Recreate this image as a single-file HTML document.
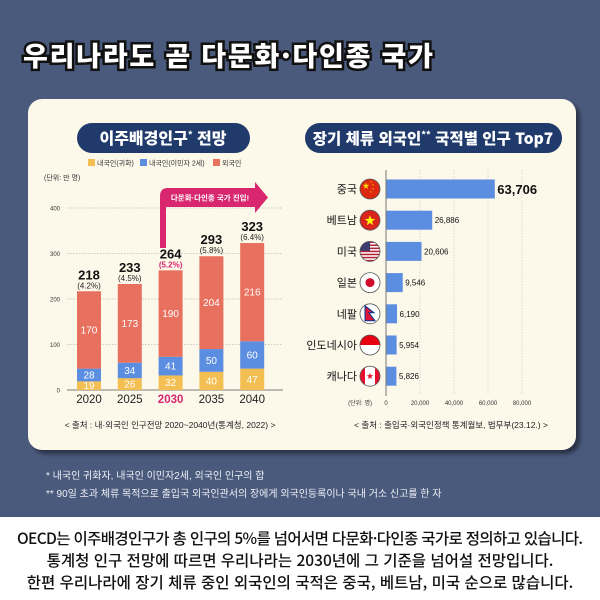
<!DOCTYPE html>
<html lang="ko"><head><meta charset="utf-8">
<style>
html,body{margin:0;padding:0;width:600px;height:600px;overflow:hidden;background:#fff;}
svg{display:block;font-family:"Liberation Sans","Noto Sans CJK KR",sans-serif;}
</style></head>
<body>
<svg id="s" width="600" height="600" viewBox="0 0 600 600" xmlns="http://www.w3.org/2000/svg">
<defs>
<filter id="sh" x="-5%" y="-5%" width="115%" height="120%"><feDropShadow dx="4" dy="4" stdDeviation="2" flood-color="#000" flood-opacity="0.45"/></filter>
</defs>
<rect x="0" y="0" width="600" height="517" fill="#4a5a7d"/>
<rect x="0" y="517" width="600" height="83" fill="#ffffff"/>
<text x="23" y="66" font-size="27" font-weight="900" fill="#fff" stroke="#111" stroke-width="5" paint-order="stroke" font-family="Noto Sans CJK KR, sans-serif" textLength="410">우리나라도 곧 다문화·다인종 국가</text>
<rect x="28" y="99" width="548" height="351" rx="14" fill="#fcf8ea" filter="url(#sh)"/>

<rect x="77" y="123" width="173" height="30" rx="15" fill="#1f3a6b"/>
<text x="163" y="144" font-size="16" font-weight="900" fill="#fff" text-anchor="middle" font-family="Noto Sans CJK KR, sans-serif">이주배경인구<tspan font-size="9" dy="-6">*</tspan><tspan dy="6"> 전망</tspan></text>
<rect x="305" y="123" width="257" height="30" rx="15" fill="#1f3a6b"/>
<text x="433" y="144" font-size="15.5" font-weight="900" fill="#fff" text-anchor="middle" font-family="Noto Sans CJK KR, sans-serif">장기 체류 외국인<tspan font-size="9" dy="-6">**</tspan><tspan dy="6"> 국적별 인구 Top7</tspan></text>

<g font-size="7" fill="#333">
<rect x="88" y="159" width="7" height="7" fill="#f4bf52"/>
<text x="97" y="165.5">내국인(귀화)</text>
<rect x="140" y="159" width="7" height="7" fill="#5b8de0"/>
<text x="149" y="165.5">내국인(이민자 2세)</text>
<rect x="213" y="159" width="7" height="7" fill="#e8705f"/>
<text x="222" y="165.5">외국인</text>
</g>
<text x="44" y="180" font-size="7" fill="#333">(단위: 만 명)</text>

<g id="left"></g>
<g id="right"></g>

<text x="170" y="428" font-size="8.5" fill="#222" text-anchor="middle">&lt; 출처 : 내·외국인 인구전망 2020~2040년(통계청, 2022) &gt;</text>
<text x="451" y="428" font-size="8.5" fill="#222" text-anchor="middle">&lt; 출처 : 출입국·외국인정책 통계월보, 법무부(23.12.) &gt;</text>

<text x="46" y="479" font-size="10" fill="#eef0f4">* 내국인 귀화자, 내국인 이민자2세, 외국인 인구의 합</text>
<text x="46" y="497" font-size="10" fill="#eef0f4">** 90일 초과 체류 목적으로 출입국 외국인관서의 장에게 외국인등록이나 국내 거소 신고를 한 자</text>

<g font-size="15.5" font-weight="500" fill="#111" text-anchor="middle" font-family="Noto Sans CJK KR, sans-serif">
<text x="300" y="544" textLength="566">OECD는 이주배경인구가 총 인구의 5%를 넘어서면 다문화·다인종 국가로 정의하고 있습니다.</text>
<text x="300" y="566">통계청 인구 전망에 따르면 우리나라는 2030년에 그 기준을 넘어설 전망입니다.</text>
<text x="300" y="588">한편 우리나라에 장기 체류 중인 외국인의 국적은 중국, 베트남, 미국 순으로 많습니다.</text>
</g>
</svg>
<script>
const years = ["2020","2025","2030","2035","2040"];
const naturalized = [19,26,32,40,47];
const secondGen = [28,34,41,50,60];
const foreigners = [170,173,190,204,216];
const totals = [218,233,264,293,323];
const shares = ["(4.2%)","(4.5%)","(5.2%)","(5.8%)","(6.4%)"];
const yTicks = [0,100,200,300,400];

const countries = ["중국","베트남","미국","일본","네팔","인도네시아","캐나다"];
const residents = [63706,26886,20606,9546,6190,5954,5826];
const residentLabels = ["63,706","26,886","20,606","9,546","6,190","5,954","5,826"];
const xTicks = [0,20000,40000,60000,80000];
const xTickLabels = ["0","20,000","40,000","60,000","80,000"];

const NS="http://www.w3.org/2000/svg";
function mk(parent,tag,attrs,text){const e=document.createElementNS(NS,tag);for(const k in attrs)e.setAttribute(k,attrs[k]);if(text!==undefined)e.textContent=text;parent.appendChild(e);return e;}

// left chart
const L=document.getElementById('left');
const y0=390, yScale=v=>y0-v*0.455;
const xBand=i=>89+i*40.8;
const bw=24;
yTicks.forEach(t=>{
  const g=mk(L,'line',{x1:67,x2:283,y1:yScale(t),y2:yScale(t),stroke:t===0?'#555':'#bbb','stroke-width':t===0?0.8:0.8,'stroke-dasharray':t===0?'':'1.5,1.5'});
  
  
  const tx=mk(L,'text',{x:60,y:yScale(t)+2.5,'font-size':6,fill:'#333','text-anchor':'end'},String(t));
  
  
});
// arrow banner
const ar=mk(L,'path',{d:'M160 248 L160 196 Q160 188 168 188 L255 188 L255 182 L268 197.5 L255 213 L255 207 L166 207 L166 248 Z',fill:'#d9276f'});


const at=mk(L,'text',{x:210,y:200.5,'font-size':7.5,'font-weight':'bold',fill:'#fff','text-anchor':'middle'},'다문화·다인종 국가 진입!');



years.forEach((yr,i)=>{
  const cx=xBand(i);
  const segs=[[naturalized[i],'#f4bf52','bar-naturalized'],[secondGen[i],'#5b8de0','bar-second-gen'],[foreigners[i],'#e8705f','bar-foreigner']];
  let base=0;
  segs.forEach(([v,c,n])=>{
    const top=yScale(base+v), bot=yScale(base);
    const r=mk(L,'rect',{x:cx-bw/2,y:top,width:bw,height:bot-top,fill:c});
    
    
    const t=mk(L,'text',{x:cx,y:(top+bot)/2+3.5,'font-size':10,fill:'#fff','text-anchor':'middle'},String(v));
    
    
    base+=v;
  });
  const topY=yScale(base);
  const tt=mk(L,'text',{x:cx,y:topY-12,'font-size':13,'font-weight':'bold',fill:'#111','text-anchor':'middle'},String(totals[i]));
  
  
  const ps=mk(L,'text',{x:cx,y:topY-3,'font-size':8,fill:i===2?'#d9276f':'#222','text-anchor':'middle','font-weight':i===2?'bold':'normal'},shares[i]);
  
  
  const yl=mk(L,'text',{x:cx,y:403,'font-size':11.5,fill:i===2?'#d9276f':'#222','text-anchor':'middle','font-weight':i===2?'bold':'normal'},yr);
  
  
});

// right chart
const R=document.getElementById('right');
const x0=386, xScale=v=>x0+v*0.0017;
const rowY=i=>189+i*31.2;
xTicks.forEach((t,i)=>{
  if(t>0){
    const g=mk(R,'line',{x1:xScale(t),x2:xScale(t),y1:170,y2:395,stroke:'#ccc','stroke-width':0.7,'stroke-dasharray':'1.5,1.5'});
    
    
  }
  const tx=mk(R,'text',{x:xScale(t),y:405,'font-size':6,fill:'#333','text-anchor':'middle'},xTickLabels[i]);
  
  
});
const ax=mk(R,'line',{x1:x0,x2:x0,y1:170,y2:396,stroke:'#555','stroke-width':0.8});


const ul=mk(R,'text',{x:372,y:405,'font-size':6,fill:'#333','text-anchor':'end'},'(단위: 명)');



function flag(i,cx,cy){
  const g=mk(R,'g',{});
  
  
  const r=10;
  const cid='c'+i;
  const cp=mk(g,'clipPath',{id:cid}); mk(cp,'circle',{cx:cx,cy:cy,r:r});
  const inner=mk(g,'g',{'clip-path':'url(#'+cid+')'});
  const star=(x,y,s,f)=>{let p=[];for(let k=0;k<10;k++){const a=-Math.PI/2+k*Math.PI/5,rr=k%2?s*0.4:s;p.push((x+rr*Math.cos(a)).toFixed(2)+','+(y+rr*Math.sin(a)).toFixed(2));}mk(inner,'polygon',{points:p.join(' '),fill:f});};
  if(i===0){mk(inner,'rect',{x:cx-r,y:cy-r,width:2*r,height:2*r,fill:'#de2910'});star(cx-4,cy-3,3.5,'#ffde00');star(cx+1,cy-7,1,'#ffde00');star(cx+3,cy-4,1,'#ffde00');star(cx+3,cy,1,'#ffde00');star(cx+1,cy+3,1,'#ffde00');}
  else if(i===1){mk(inner,'rect',{x:cx-r,y:cy-r,width:2*r,height:2*r,fill:'#da251d'});star(cx,cy+0.5,5.5,'#ffff00');}
  else if(i===2){mk(inner,'rect',{x:cx-r,y:cy-r,width:2*r,height:2*r,fill:'#fff'});for(let k=0;k<7;k++)mk(inner,'rect',{x:cx-r,y:cy-r+k*2*r/6.5,width:2*r,height:r/6.5,fill:'#b22234'});mk(inner,'rect',{x:cx-r,y:cy-r,width:r,height:r*0.95,fill:'#3c3b6e'});}
  else if(i===3){mk(inner,'rect',{x:cx-r,y:cy-r,width:2*r,height:2*r,fill:'#fff'});mk(inner,'circle',{cx:cx,cy:cy,r:4.5,fill:'#d10c2a'});}
  else if(i===4){mk(inner,'rect',{x:cx-r,y:cy-r,width:2*r,height:2*r,fill:'#fff'});mk(inner,'path',{d:`M${cx-5} ${cy-8} L${cx+4} ${cy-1} L${cx-1} ${cy-1} L${cx+5} ${cy+7} L${cx-5} ${cy+7} Z`,fill:'#dc143c',stroke:'#003893','stroke-width':1});}
  else if(i===5){mk(inner,'rect',{x:cx-r,y:cy-r,width:2*r,height:2*r,fill:'#fff'});mk(inner,'rect',{x:cx-r,y:cy-r,width:2*r,height:r,fill:'#e70011'});}
  else {mk(inner,'rect',{x:cx-r,y:cy-r,width:2*r,height:2*r,fill:'#fff'});mk(inner,'rect',{x:cx-r,y:cy-r,width:5,height:2*r,fill:'#e8112d'});mk(inner,'rect',{x:cx+r-5,y:cy-r,width:5,height:2*r,fill:'#e8112d'});star(cx,cy,3.5,'#e8112d');}
  mk(g,'circle',{cx:cx,cy:cy,r:r,fill:'none',stroke:'#555','stroke-width':0.8});
}
countries.forEach((c,i)=>{
  const cy=rowY(i);
  const lb=mk(R,'text',{x:357,y:cy+4,'font-size':11,fill:'#111','text-anchor':'end'},c);
  
  
  flag(i,370,cy);
  const b=mk(R,'rect',{x:x0+0.5,y:cy-9.5,width:xScale(residents[i])-x0,height:19,fill:'#5b8de0'});
  
  
  const big=i===0;
  const vl=mk(R,'text',{x:xScale(residents[i])+(big?3:3),y:cy+(big?5:3),'font-size':big?13:8,'font-weight':big?'bold':'normal',fill:'#111'},residentLabels[i]);
  
  
});
</script>
</body></html>
